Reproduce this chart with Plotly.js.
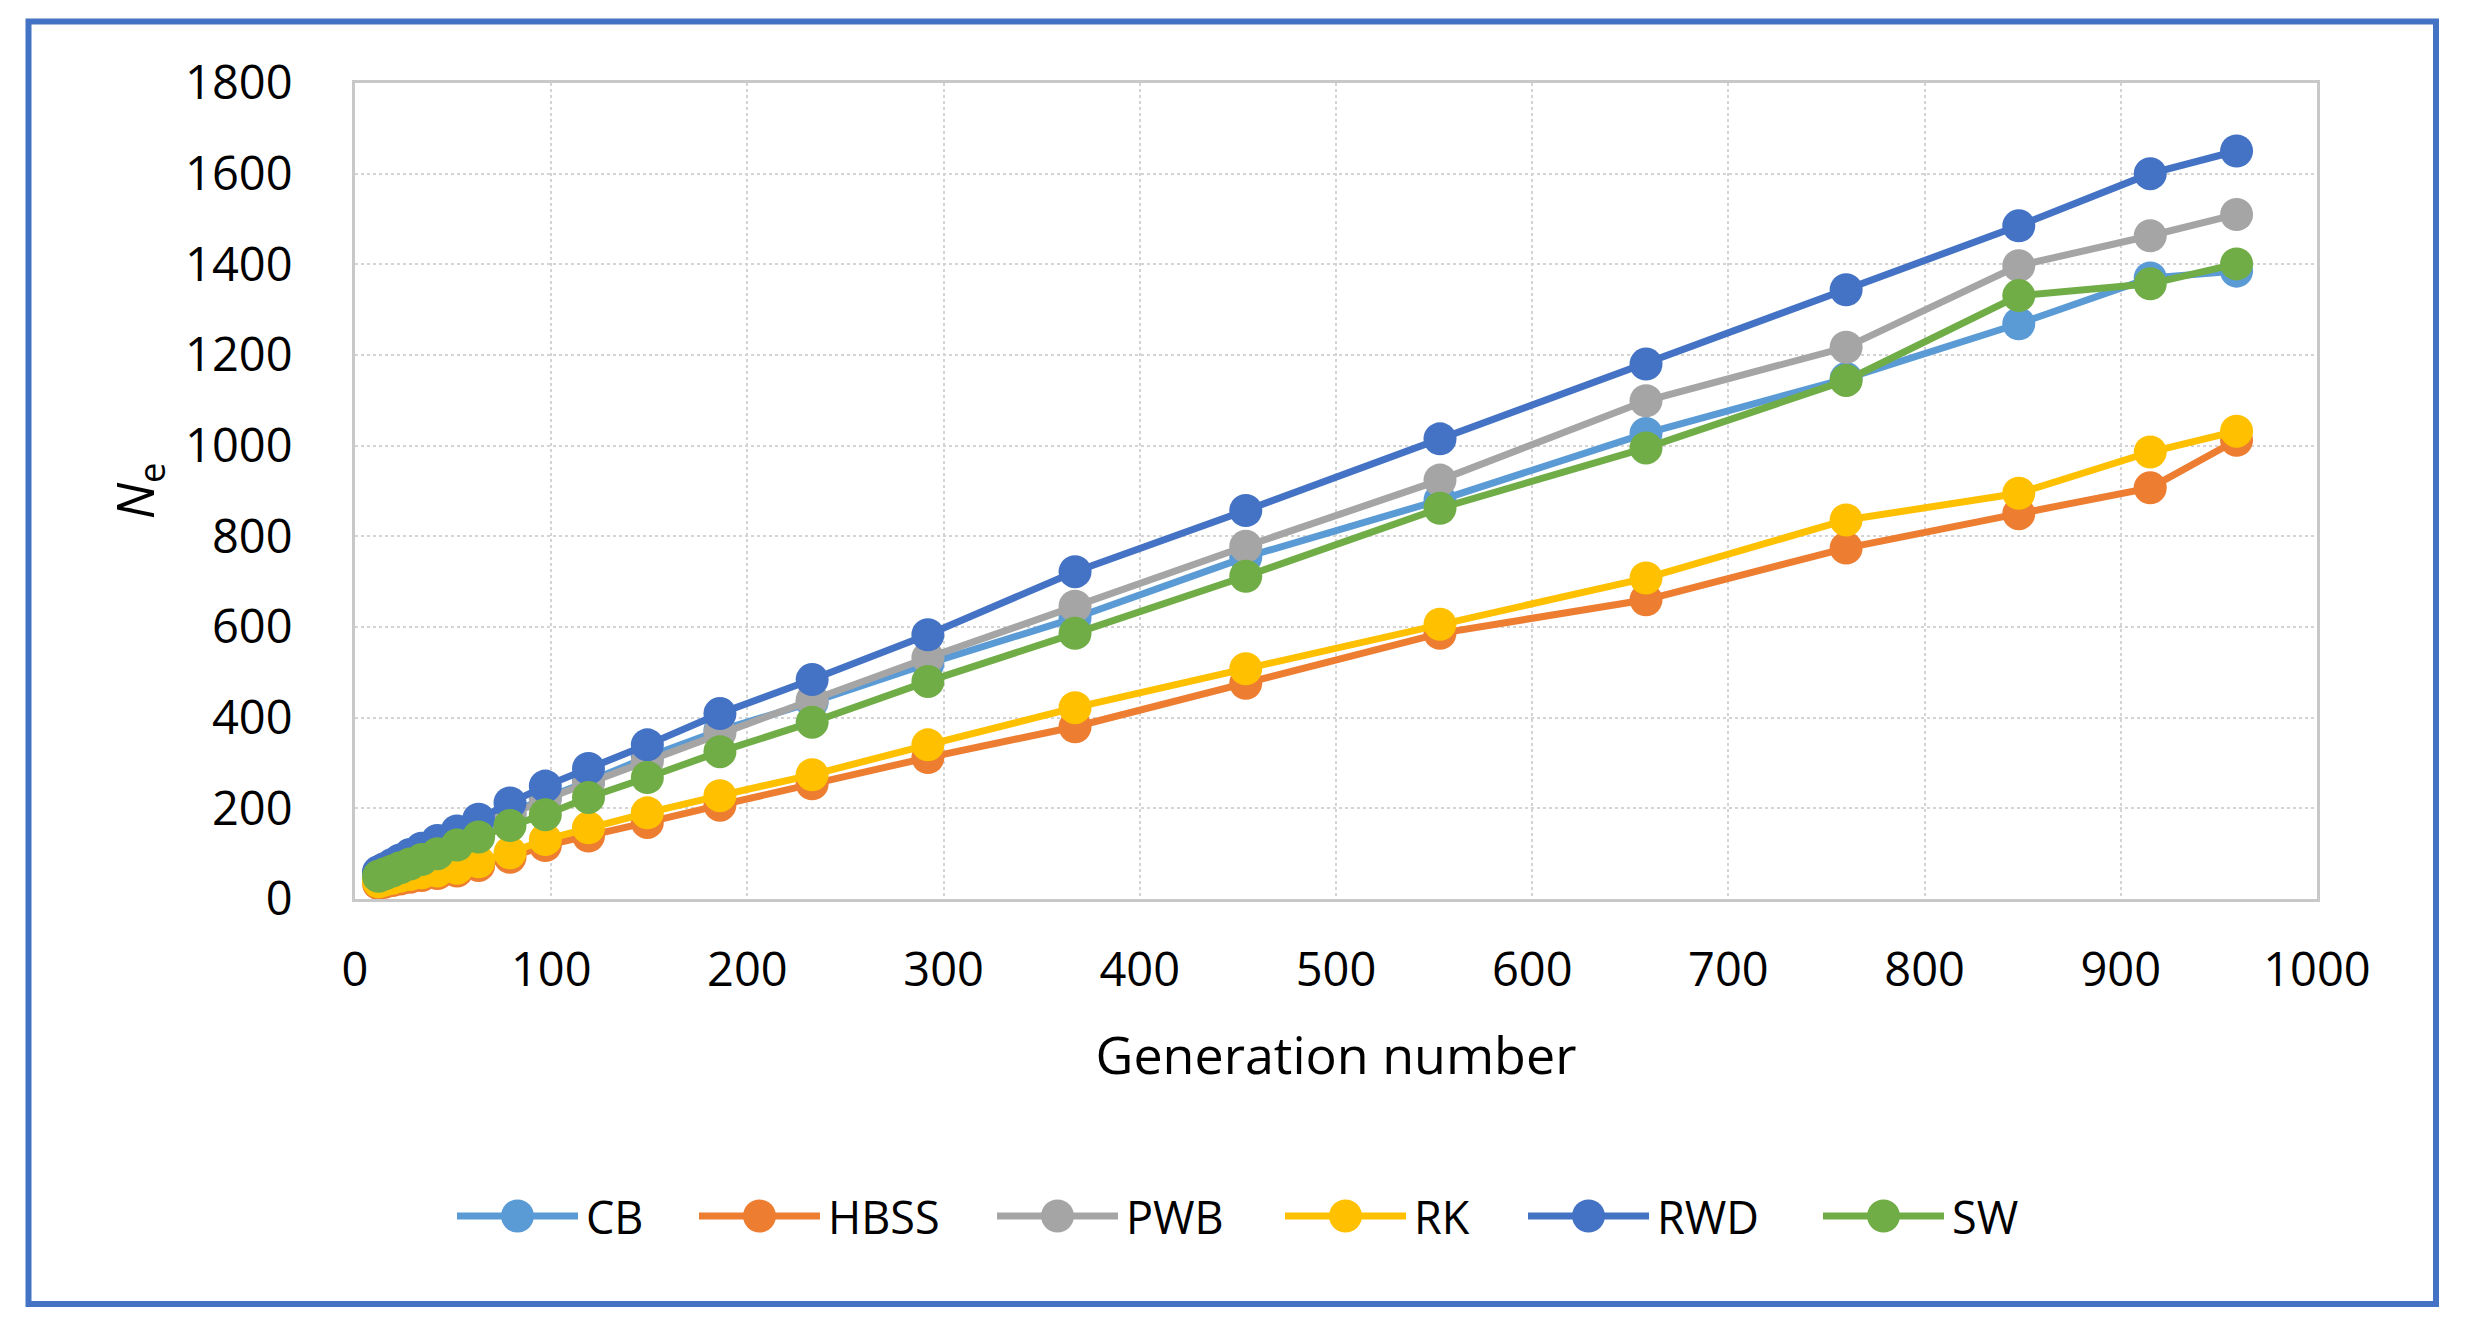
<!DOCTYPE html>
<html>
<head>
<meta charset="utf-8">
<script src="https://cdn.plot.ly/plotly-3.0.1.min.js"></script>
<style>
  html, body { margin: 0; padding: 0; background: #fff; }
  #chart { width: 2470px; height: 1328px; }
</style>
</head>
<body>
<div id="chart"></div>
<script>
'use strict';

// generation numbers (x)
const generations = [12, 15, 19, 23, 28, 34, 42, 52, 63, 79, 97, 119, 149, 186, 233, 292, 367, 454, 553, 658, 760, 848, 915, 959];

// Ne per method
const cbValues   = [54, 60, 68, 77, 88, 102, 118, 138, 160, 189, 223, 259, 313, 372, 434, 519, 620, 754, 880, 1027, 1148, 1269, 1370, 1385];
const hbssValues = [34, 37, 41, 44, 48, 52, 56, 62, 74, 92, 118, 139, 169, 207, 254, 312, 380, 476, 586, 660, 774, 850, 907, 1012];
const pwbValues  = [54, 60, 68, 77, 88, 101, 117, 136, 158, 186, 220, 256, 304, 367, 439, 532, 646, 778, 924, 1099, 1217, 1397, 1463, 1510];
const rkValues   = [38, 42, 46, 50, 54, 58, 62, 68, 82, 102, 131, 157, 190, 228, 274, 340, 422, 508, 606, 708, 836, 895, 986, 1032];
const rwdValues  = [60, 67, 76, 86, 98, 112, 129, 150, 176, 212, 249, 288, 340, 409, 484, 583, 722, 857, 1015, 1180, 1344, 1485, 1600, 1650];
const swValues   = [50, 55, 62, 69, 77, 87, 100, 119, 137, 162, 186, 224, 268, 325, 390, 480, 586, 712, 862, 995, 1144, 1331, 1357, 1401];

const seriesNames = ['CB', 'HBSS', 'PWB', 'RK', 'RWD', 'SW'];
const seriesData = [cbValues, hbssValues, pwbValues, rkValues, rwdValues, swValues];
const seriesColors = ['#5B9BD5', '#ED7D31', '#A5A5A5', '#FFC000', '#4472C4', '#70AD47'];

const xTicks = [0, 100, 200, 300, 400, 500, 600, 700, 800, 900, 1000];
const yTicks = [0, 200, 400, 600, 800, 1000, 1200, 1400, 1600, 1800];

const W = 2470, H = 1328;
const margin = {l: 355, r: 153, t: 83, b: 429};
const plotW = W - margin.l - margin.r;
const plotH = H - margin.t - margin.b;

// pixel -> paper coords (for frame and legend)
function px(x) { return (x - margin.l) / plotW; }
function py(y) { return (H - margin.b - y) / plotH; }

const font = 'Open Sans, sans-serif';
const lineW = 7, markerD = 33;

const traces = seriesNames.map(function(name, i) {
	return {
		x: generations,
		y: seriesData[i],
		name: name,
		type: 'scatter',
		mode: 'lines+markers',
		line: {color: seriesColors[i], width: lineW},
		marker: {color: seriesColors[i], size: markerD}
	};
});

const axisCommon = {
	showgrid: true,
	gridcolor: '#d4d4d4',
	gridwidth: 2,
	griddash: 'dot',
	showline: true,
	linecolor: '#c8c8c8',
	linewidth: 3,
	mirror: true,
	zeroline: false,
	ticks: '',
	tickfont: {family: font, size: 47, color: '#000'}
};

// outer blue frame
const shapes = [{
	type: 'rect',
	xref: 'paper', yref: 'paper',
	x0: px(28.5), x1: px(2436),
	y0: py(1304), y1: py(21.5),
	line: {color: '#4472C4', width: 6},
	fillcolor: 'rgba(0,0,0,0)',
	layer: 'below'
}];
const annotations = [];

// legend row (Excel style: long line with big marker), left edge of each entry
const legendStarts = [457, 699, 997, 1285, 1528, 1823];
const legendY = 1216, legendLineLen = 121;
seriesNames.forEach(function(name, i) {
	const x0 = legendStarts[i], x1 = x0 + legendLineLen, xm = (x0 + x1) / 2;
	shapes.push({
		type: 'line', xref: 'paper', yref: 'paper',
		x0: px(x0), x1: px(x1), y0: py(legendY), y1: py(legendY),
		line: {color: seriesColors[i], width: lineW}
	});
	shapes.push({
		type: 'circle', xref: 'paper', yref: 'paper',
		x0: px(xm - markerD / 2), x1: px(xm + markerD / 2),
		y0: py(legendY + markerD / 2), y1: py(legendY - markerD / 2),
		fillcolor: seriesColors[i], line: {width: 0}
	});
	annotations.push({
		xref: 'paper', yref: 'paper',
		x: px(x1 + 6), y: py(legendY),
		xanchor: 'left', yanchor: 'middle',
		text: name, showarrow: false,
		font: {family: font, size: 45, color: '#000'}
	});
});

const layout = {
	width: W,
	height: H,
	margin: margin,
	paper_bgcolor: '#fff',
	plot_bgcolor: '#fff',
	showlegend: false,
	xaxis: Object.assign({}, axisCommon, {
		range: [0, 1000],
		tickvals: xTicks,
		ticklabelstandoff: 28,
		title: {text: 'Generation number', font: {family: font, size: 52, color: '#000'}, standoff: 39}
	}),
	yaxis: Object.assign({}, axisCommon, {
		range: [0, 1800],
		tickvals: yTicks,
		ticklabelstandoff: 50,
		title: {text: '<i>N</i><sub>e</sub>', font: {family: font, size: 52, color: '#000'}, standoff: 14}
	}),
	shapes: shapes,
	annotations: annotations
};

Plotly.newPlot('chart', traces, layout, {displayModeBar: false, staticPlot: true});
</script>
</body>
</html>
